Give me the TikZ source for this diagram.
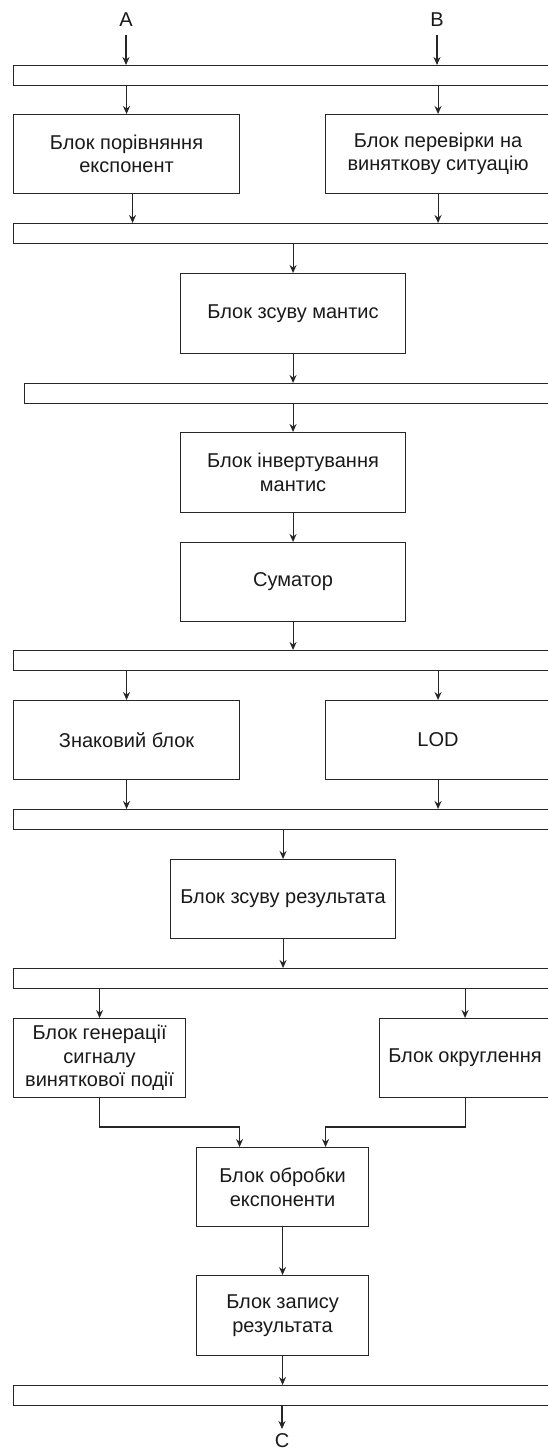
\documentclass[tikz,border=0pt]{standalone}
\usepackage{fontspec}
\setmainfont{Liberation Sans}
\usetikzlibrary{arrows.meta}
\tikzset{
  block/.style={draw=black!85, line width=1.1pt, anchor=north west, align=center,
    inner sep=0pt, text=black!90, font=\fontsize{20}{23.5}\selectfont},
  reg/.style={draw=black!85, line width=1.1pt, anchor=north west, inner sep=0pt,
    minimum height=20pt, minimum width=#1},
  reg/.default=538pt,
  arr/.style={draw=black!85, line width=1.1pt, -{Stealth[length=8pt,width=7pt]}},
  sig/.style={inner sep=0pt, outer sep=8pt, text=black!90, font=\fontsize{20}{23.5}\selectfont}
}
\begin{document}
\begin{tikzpicture}[x=1pt, y=-1pt]
      \useasboundingbox (0,0) rectangle (548,1452);
      \clip (0,0) rectangle (548,1452);
      \node [sig] (inA) at (126,20) {A};
      \node [sig] (inB) at (437,20) {B};
      \node [reg] (r1) at (13,65) {};
      \node [block, minimum width=226pt, minimum height=79pt] (cmp) at (13,114) {Блок порівняння\\експонент};
      \node [block, minimum width=225pt, minimum height=79pt] (exc) at (325,114) {Блок перевірки на\\виняткову ситуацію};
      \node [reg] (r2) at (13,223) {};
      \node [block, minimum width=225pt, minimum height=80pt] (shm) at (180,273) {Блок зсуву мантис};
      \node [reg=527pt] (r3) at (24,383) {};
      \node [block, minimum width=225pt, minimum height=80pt] (inv) at (180,432) {Блок інвертування\\мантис};
      \node [block, minimum width=225pt, minimum height=79pt] (sum) at (180,542) {Суматор};
      \node [reg] (r4) at (13,650) {};
      \node [block, minimum width=226pt, minimum height=79pt] (sgn) at (13,700) {Знаковий блок};
      \node [block, minimum width=225pt, minimum height=79pt] (lod) at (325,700) {LOD};
      \node [reg] (r5) at (13,809) {};
      \node [block, minimum width=225pt, minimum height=79pt] (shr) at (170,859) {Блок зсуву результата};
      \node [reg] (r6) at (13,968) {};
      \node [block, minimum width=172pt, minimum height=79pt] (gen) at (13,1018) {Блок генерації\\сигналу\\виняткової події};
      \node [block, minimum width=171pt, minimum height=79pt] (rnd) at (379,1018) {Блок округлення};
      \coordinate (mj) at (282,1127);
      \node [block, minimum width=172pt, minimum height=79pt] (exp) at (196,1147) {Блок обробки\\експоненти};
      \node [block, minimum width=172pt, minimum height=80pt] (wr) at (196,1275) {Блок запису\\результата};
      \node [reg] (r7) at (13,1385) {};
      \node [sig, anchor=north, outer sep=5pt] (outC) at (282,1429) {C};
      \draw [arr] (inA.south) -- (inA |- r1.north);
      \draw [arr] (inB.south) -- (inB |- r1.north);
      \draw [arr] (cmp.north |- r1.south) -- (cmp.north);
      \draw [arr] (exc.north |- r1.south) -- (exc.north);
      \draw [arr] ([xshift=6pt]cmp.south) -- ([xshift=6pt]cmp.south |- r2.north);
      \draw [arr] (exc.south) -- (exc.south |- r2.north);
      \draw [arr] (shm.north |- r2.south) -- (shm.north);
      \draw [arr] (shm.south) -- (shm.south |- r3.north);
      \draw [arr] (inv.north |- r3.south) -- (inv.north);
      \draw [arr] (inv.south) -- (sum.north);
      \draw [arr] (sum.south) -- (sum.south |- r4.north);
      \draw [arr] (sgn.north |- r4.south) -- (sgn.north);
      \draw [arr] (lod.north |- r4.south) -- (lod.north);
      \draw [arr] (sgn.south) -- (sgn.south |- r5.north);
      \draw [arr] (lod.south) -- (lod.south |- r5.north);
      \draw [arr] (shr.north |- r5.south) -- (shr.north);
      \draw [arr] (shr.south) -- (shr.south |- r6.north);
      \draw [arr] (gen.north |- r6.south) -- (gen.north);
      \draw [arr] (rnd.north |- r6.south) -- (rnd.north);
      \draw [arr] (gen.south) -- (gen.south |- mj) -| ([xshift=-43pt]exp.north);
      \draw [arr] (rnd.south) -- (rnd.south |- mj) -| ([xshift=43pt]exp.north);
      \draw [arr] (exp.south) -- (wr.north);
      \draw [arr] (wr.south) -- (wr.south |- r7.north);
      \draw [arr] (outC |- r7.south) -- (outC.north);
    \end{tikzpicture}
\end{document}
